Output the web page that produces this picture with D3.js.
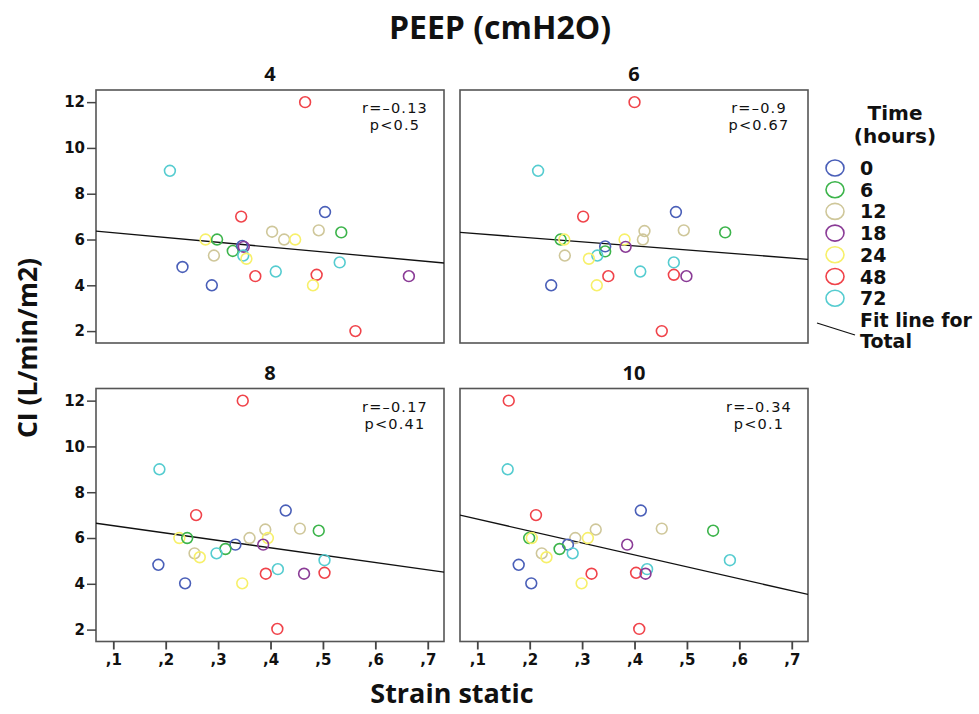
<!DOCTYPE html>
<html>
<head>
<meta charset="utf-8">
<script src="https://cdn.jsdelivr.net/npm/d3@7"></script>
<style>
    body { margin: 0; background: #fff; }
    svg { display: block; }
    text { font-family: "DejaVu Sans", sans-serif; fill: #111; }
</style>
</head>
<body>
<div id="chart"></div>
<script>
// time levels (hours) and their SPSS-like colours
var timeLevels = [0, 6, 12, 18, 24, 48, 72];
var timeColors = ['#4a5fb8', '#3cb44b', '#cfc79a', '#8a3b96', '#f7f06a', '#f0434a', '#55ccd0'];

var peepLevels = ['4', '6', '8', '10'];
var xTicks = [0.1, 0.2, 0.3, 0.4, 0.5, 0.6, 0.7];
var yTicks = [2, 4, 6, 8, 10, 12];

// [time, strain static, CI]
var peep4 = [
    [48, 0.466, 12.0], [72, 0.208, 9.0], [48, 0.344, 7.0], [0, 0.504, 7.2],
    [12, 0.403, 6.34], [12, 0.492, 6.4], [6, 0.535, 6.31], [24, 0.276, 6.0],
    [6, 0.298, 6.0], [12, 0.426, 6.0], [24, 0.447, 6.0], [6, 0.328, 5.5],
    [0, 0.346, 5.72], [18, 0.349, 5.68], [12, 0.292, 5.3], [72, 0.348, 5.3],
    [24, 0.354, 5.16], [0, 0.232, 4.8], [72, 0.532, 5.0], [72, 0.410, 4.6],
    [48, 0.371, 4.4], [48, 0.488, 4.46], [18, 0.664, 4.4], [0, 0.288, 4.0],
    [24, 0.481, 4.0], [48, 0.562, 2.0]
];
var peep6 = [
    [48, 0.400, 12.0], [72, 0.216, 9.0], [48, 0.302, 7.0], [0, 0.479, 7.2],
    [12, 0.419, 6.37], [12, 0.494, 6.4], [6, 0.573, 6.31], [6, 0.259, 6.0],
    [24, 0.266, 6.0], [24, 0.381, 6.0], [12, 0.416, 6.0], [0, 0.344, 5.7],
    [6, 0.344, 5.48], [18, 0.383, 5.68], [12, 0.267, 5.3], [72, 0.329, 5.3],
    [24, 0.313, 5.16], [72, 0.475, 5.0], [72, 0.411, 4.6], [48, 0.350, 4.4],
    [48, 0.475, 4.46], [18, 0.499, 4.4], [0, 0.241, 4.0], [24, 0.328, 4.0],
    [48, 0.452, 2.0]
];
var peep8 = [
    [48, 0.347, 12.0], [72, 0.188, 9.0], [48, 0.258, 7.0], [0, 0.429, 7.2],
    [12, 0.390, 6.37], [12, 0.456, 6.41], [6, 0.492, 6.32], [24, 0.226, 6.0],
    [6, 0.241, 6.0], [12, 0.360, 6.0], [24, 0.395, 6.0], [0, 0.333, 5.71],
    [18, 0.386, 5.71], [6, 0.314, 5.52], [12, 0.255, 5.33], [72, 0.297, 5.33],
    [24, 0.265, 5.16], [72, 0.503, 5.03], [0, 0.186, 4.83], [72, 0.414, 4.64],
    [48, 0.391, 4.44], [18, 0.464, 4.44], [48, 0.503, 4.48], [0, 0.237, 4.02],
    [24, 0.346, 4.02], [48, 0.413, 2.03]
];
var peep10 = [
    [48, 0.160, 12.0], [72, 0.158, 9.0], [48, 0.212, 7.0], [0, 0.412, 7.2],
    [12, 0.326, 6.37], [12, 0.452, 6.41], [6, 0.550, 6.32], [6, 0.199, 6.0],
    [24, 0.204, 6.0], [12, 0.287, 6.0], [24, 0.311, 6.0], [0, 0.273, 5.71],
    [18, 0.386, 5.71], [6, 0.257, 5.52], [12, 0.223, 5.33], [72, 0.282, 5.33],
    [24, 0.232, 5.16], [72, 0.582, 5.03], [0, 0.179, 4.83], [72, 0.424, 4.64],
    [48, 0.403, 4.48], [18, 0.421, 4.44], [48, 0.318, 4.44], [0, 0.203, 4.02],
    [24, 0.299, 4.02], [48, 0.409, 2.03]
];

// fit line for total: CI = intercept + slope * strain
var fitIntercepts = [6.51, 6.43, 6.86, 7.35];
var fitSlopes = [-2.10, -1.77, -3.22, -5.22];
var rLabels = ['r=\u20130.13', 'r=\u20130.9', 'r=\u20130.17', 'r=\u20130.34'];
var pLabels = ['p<0.5', 'p<0.67', 'p<0.41', 'p<0.1'];

var panelData = [peep4, peep6, peep8, peep10];

var width = 979, height = 714,
    panel = {width: 348, height: 253},
    panelX = [96, 460],
    panelY = [90, 388.5],
    color = d3.scaleOrdinal().domain(timeLevels).range(timeColors);

var x = d3.scaleLinear().domain([0.067, 0.731]).range([0, panel.width]),
    y = d3.scaleLinear().domain([1.48, 12.53]).range([panel.height, 0]);

var svg = d3.select('#chart').append('svg')
    .attr('width', width)
    .attr('height', height);

svg.append('text')
    .attr('x', 500).attr('y', 39)
    .attr('text-anchor', 'middle')
    .style('font-family', '"Open Sans", sans-serif')
    .style('font-size', '32px').style('font-weight', 'bold')
    .text('PEEP (cmH2O)');

peepLevels.forEach(function (level, i) {
    var col = i % 2, row = Math.floor(i / 2),
        g = svg.append('g')
            .attr('transform', 'translate(' + panelX[col] + ',' + panelY[row] + ')');

    g.append('text')
        .attr('x', panel.width / 2).attr('y', -9)
        .attr('text-anchor', 'middle')
        .style('font-family', '"Open Sans", sans-serif')
        .style('font-size', '20px').style('font-weight', 'bold')
        .text(level);

    g.append('rect')
        .attr('width', panel.width).attr('height', panel.height)
        .attr('fill', '#fff')
        .attr('stroke', '#555').attr('stroke-width', 1.6);

    // axes only on the outer edges
    if (col === 0) {
        var ya = g.append('g')
            .call(d3.axisLeft(y).tickValues(yTicks).tickFormat(d3.format('d')).tickSize(9).tickPadding(2));
        ya.select('.domain').remove();
        ya.selectAll('line').attr('stroke', '#444').attr('stroke-width', 1.5);
        ya.selectAll('text').style('font-size', '15px').style('font-weight', 'bold')
            .attr('fill', '#222');
    }
    if (row === 1) {
        var xa = g.append('g')
            .attr('transform', 'translate(0,' + panel.height + ')')
            .call(d3.axisBottom(x).tickValues(xTicks)
                .tickFormat(function (d) { return ',' + Math.round(d * 10); })
                .tickSize(8).tickPadding(5));
        xa.select('.domain').remove();
        xa.selectAll('line').attr('stroke', '#444').attr('stroke-width', 1.8);
        xa.selectAll('text').style('font-size', '15px').style('font-weight', 'bold')
            .attr('fill', '#222');
    }

    var clip = 'clip' + i;
    g.append('clipPath').attr('id', clip)
        .append('rect').attr('width', panel.width).attr('height', panel.height);

    var x0 = x.domain()[0], x1 = x.domain()[1];
    g.append('line')
        .attr('clip-path', 'url(#' + clip + ')')
        .attr('x1', x(x0)).attr('y1', y(fitIntercepts[i] + fitSlopes[i] * x0))
        .attr('x2', x(x1)).attr('y2', y(fitIntercepts[i] + fitSlopes[i] * x1))
        .attr('stroke', '#111').attr('stroke-width', 1.3);

    g.selectAll('circle.pt')
        .data(panelData[i])
        .enter().append('circle')
        .attr('class', 'pt')
        .attr('cx', function (d) { return x(d[1]); })
        .attr('cy', function (d) { return y(d[2]); })
        .attr('r', 5.4)
        .attr('fill', 'none')
        .attr('stroke', function (d) { return color(d[0]); })
        .attr('stroke-width', 1.6);

    g.append('text')
        .attr('x', panel.width - 49).attr('y', 23)
        .attr('text-anchor', 'middle')
        .style('font-size', '14.5px').style('letter-spacing', '1.2px')
        .text(rLabels[i]);
    g.append('text')
        .attr('x', panel.width - 49).attr('y', 40)
        .attr('text-anchor', 'middle')
        .style('font-size', '14.5px').style('letter-spacing', '1.2px')
        .text(pLabels[i]);
});

// axis titles
svg.append('text')
    .attr('transform', 'translate(37,348) rotate(-90)')
    .attr('text-anchor', 'middle')
    .style('font-family', '"Open Sans", sans-serif')
    .style('font-size', '26.5px').style('font-weight', 'bold')
    .text('CI (L/min/m2)');

svg.append('text')
    .attr('x', 452).attr('y', 703)
    .attr('text-anchor', 'middle')
    .style('font-family', '"Open Sans", sans-serif')
    .style('font-size', '27px').style('font-weight', 'bold')
    .text('Strain static');

// legend
var legend = svg.append('g').attr('transform', 'translate(835,0)');
legend.append('text')
    .attr('x', 60).attr('y', 120)
    .attr('text-anchor', 'middle')
    .style('font-size', '20px').style('font-weight', 'bold')
    .text('Time');
legend.append('text')
    .attr('x', 60).attr('y', 143)
    .attr('text-anchor', 'middle')
    .style('font-size', '20px').style('font-weight', 'bold')
    .text('(hours)');

var item = legend.selectAll('g.item')
    .data(timeLevels)
    .enter().append('g')
    .attr('class', 'item')
    .attr('transform', function (d, i) { return 'translate(0,' + (168 + i * 21.7) + ')'; });
item.append('ellipse')
    .attr('rx', 9).attr('ry', 8)
    .attr('fill', 'none')
    .attr('stroke', function (d) { return color(d); })
    .attr('stroke-width', 1.6);
item.append('text')
    .attr('x', 25).attr('y', 7)
    .style('font-size', '19px').style('font-weight', 'bold')
    .text(function (d) { return d; });

legend.append('line')
    .attr('x1', -18).attr('y1', 323)
    .attr('x2', 20).attr('y2', 335)
    .attr('stroke', '#111').attr('stroke-width', 1.2);
legend.append('text')
    .attr('x', 25).attr('y', 327)
    .style('font-size', '19px').style('font-weight', 'bold')
    .text('Fit line for');
legend.append('text')
    .attr('x', 25).attr('y', 348)
    .style('font-size', '19px').style('font-weight', 'bold')
    .text('Total');
</script>
</body>
</html>
